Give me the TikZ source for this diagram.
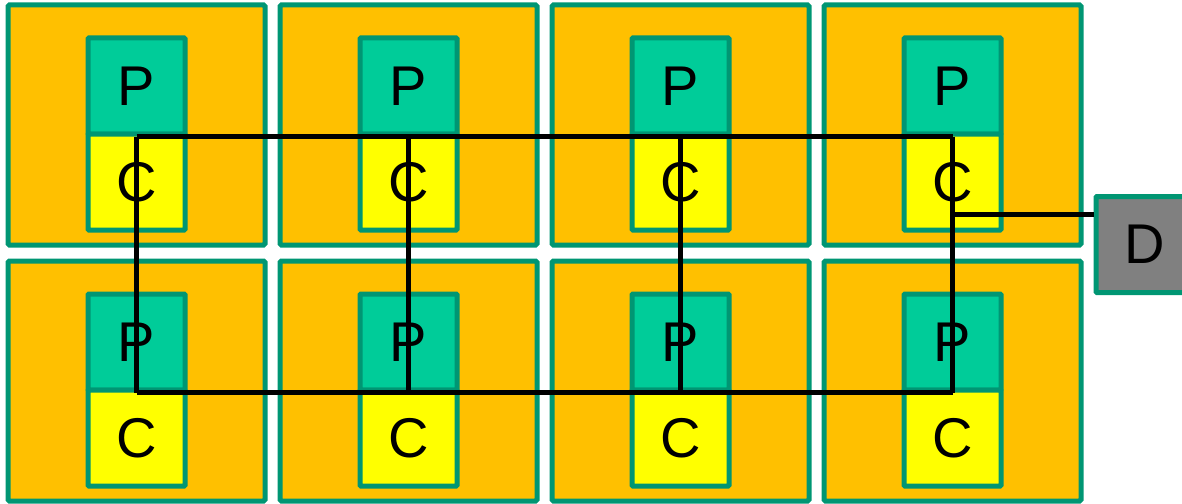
\documentclass[tikz,border=0pt]{standalone}
\usepackage{fontspec}
\setmainfont{Liberation Sans}
\definecolor{TileColor}{RGB}{255,192,0}
\definecolor{EdgeColor}{RGB}{0,150,115}
\definecolor{ProcColor}{RGB}{0,204,153}
\definecolor{CacheColor}{RGB}{255,255,0}
\definecolor{DirColor}{RGB}{128,128,128}
\usetikzlibrary{positioning}

\begin{document}
\begin{tikzpicture}[x=1pt,y=-1pt,
    tile/.style={draw=EdgeColor, line width=5pt, fill=TileColor, minimum width=257pt, minimum height=240pt, rounded corners=1.5pt},
    unit/.style={draw=EdgeColor, line width=5pt, minimum width=97pt, minimum height=96pt, inner sep=0pt, rounded corners=1pt, font=\fontsize{56}{62}\selectfont},
    wire/.style={line width=4.5pt}]
  \useasboundingbox (0,0) rectangle (1182,503);
  \foreach \r/\y in {1/125,2/381}{
    \foreach \c/\x in {1/136.5,2/408.5,3/680.5,4/952.5}{
      \node[tile] (t\r\c) at (\x,\y) {};
      \node[unit, fill=ProcColor] (p\r\c) at (\x,\y-39) {P};
      \node[unit, fill=CacheColor, below=-5pt of p\r\c] (c\r\c) {C};
    }}
  \node[unit, fill=DirColor] (d) at (1144.5,244.5) {D};
  \coordinate (dtap) at ([yshift=30pt]d.west);
  % links between the caches
  \foreach \c in {1,...,4}
    \draw[wire] (p1\c.south) -- (p2\c.south);
  \draw[wire] (p11.south) -- (p14.south);
  \draw[wire] (p21.south) -- (p24.south);
  \draw[wire] (p14.south |- dtap) -- (dtap);
\end{tikzpicture}
\end{document}
